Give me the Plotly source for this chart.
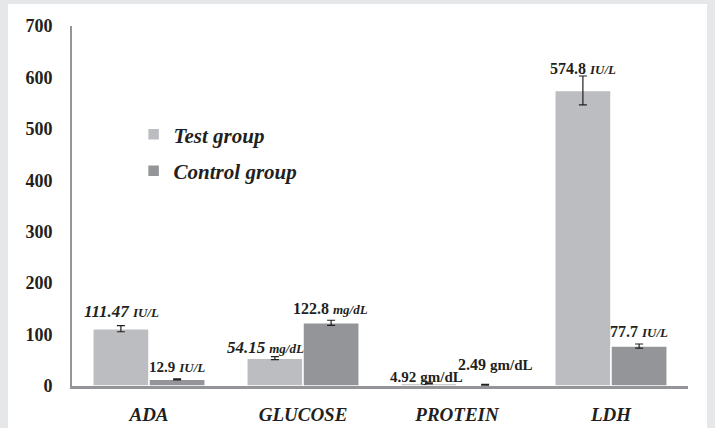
import plotly.graph_objects as go

categories = ["ADA", "GLUCOSE", "PROTEIN", "LDH"]
test_values = [111.47, 54.15, 4.92, 574.8]
control_values = [12.9, 122.8, 2.49, 77.7]
test_err = [6, 3, 1, 28]
control_err = [1, 5, 0.8, 4]
test_units = ["IU/L", "mg/dL", "gm/dL", "IU/L"]
control_units = ["IU/L", "mg/dL", "gm/dL", "IU/L"]
y_ticks = [0, 100, 200, 300, 400, 500, 600, 700]

SERIF = "Times New Roman, Liberation Serif, serif"
TXT = "#231f20"
C_TEST = "#bcbdc1"
C_CTRL = "#939598"

fig = go.Figure()
fig.add_trace(go.Bar(
    name="<b><i>Test group</i></b>", x=categories, y=test_values,
    marker=dict(color=C_TEST, line=dict(color="white", width=1.5)),
    error_y=dict(type="data", array=test_err, color=TXT, thickness=1.2, width=4),
    legendgroup="a"))
fig.add_trace(go.Bar(
    name="<b><i>Control group</i></b>", x=categories, y=control_values,
    marker=dict(color=C_CTRL, line=dict(color="white", width=1.5)),
    error_y=dict(type="data", array=control_err, color=TXT, thickness=1.2, width=4),
    legendgroup="b"))

# label styles: (italic number?, italic unit?, number size, unit size, x offset px, y shift px)
test_style = [(True, True, 17, 13, 0, 13), (True, True, 17, 13, -10, 8),
              (False, False, 15, 15, -3, 6), (False, True, 16, 13, 0, 7)]
ctrl_style = [(False, True, 15, 13, 0, 12), (False, True, 16, 13, 0, 11),
              (False, False, 16, 15, 11, 19), (False, True, 16, 13, 0, 12)]

def fmt(v):
    return f"{v:g}" if v != 111.47 else "111.47"

def label(v, unit, st):
    it_n, it_u, sn, su, _, _ = st
    n = f"<b>{fmt(v)}</b>"
    if it_n:
        n = f"<i>{n}</i>"
    u = f"<b>{unit}</b>"
    if it_u:
        u = f"<i>{u}</i>"
    return f"<span style='font-size:{sn}px'>{n}</span> <span style='font-size:{su}px'>{u}</span>"

off = 0.18
for i, c in enumerate(categories):
    for vals, errs, units, styles, dx in ((test_values, test_err, test_units, test_style, -off),
                                           (control_values, control_err, control_units, ctrl_style, off)):
        st = styles[i]
        fig.add_annotation(x=i + dx, y=vals[i] + errs[i], xref="x", yref="y",
                           text=label(vals[i], units[i], st), showarrow=False,
                           yanchor="bottom", xshift=st[4], yshift=st[5] - 10,
                           font=dict(family=SERIF, color=TXT, size=16))

fig.add_shape(type="rect", xref="paper", yref="paper",
              x0=-0.1039, x1=1.0308, y0=-0.13, y1=1.061,
              fillcolor="white", line=dict(width=0), layer="below")

fig.update_layout(
    width=715, height=428,
    margin=dict(l=72, r=27, t=26, b=42, autoexpand=False),
    paper_bgcolor="#e6e7e8", plot_bgcolor="rgba(0,0,0,0)",
    barmode="group", bargap=0.27, bargroupgap=0.0,
    font=dict(family=SERIF, color=TXT),
    legend=dict(x=0.1, y=0.755, xanchor="left", yanchor="top",
                bgcolor="rgba(0,0,0,0)", font=dict(size=21, family=SERIF, color=TXT),
                tracegroupgap=6, itemwidth=30),
    showlegend=True,
    xaxis=dict(showline=True, linecolor="#939598", linewidth=2.5, showgrid=False, automargin=False,
               tickfont=dict(family=SERIF, size=19, color=TXT),
               ticktext=[f"<b><i>{c}</i></b>" for c in categories],
               tickvals=categories, ticks="outside", ticklen=9, tickcolor="rgba(0,0,0,0)"),
    yaxis=dict(range=[0, 700], tickvals=y_ticks, automargin=False,
               ticktext=[f"<b>{v}</b>" for v in y_ticks],
               showline=True, linecolor="#939598", linewidth=2, showgrid=False, zeroline=False,
               tickfont=dict(family=SERIF, size=18, color=TXT),
               ticks="outside", ticklen=14, tickcolor="rgba(0,0,0,0)"),
)

fig.write_html("out.html", config={"displayModeBar": False},
               post_script="document.body.style.margin='0';document.body.style.overflow='hidden';")
